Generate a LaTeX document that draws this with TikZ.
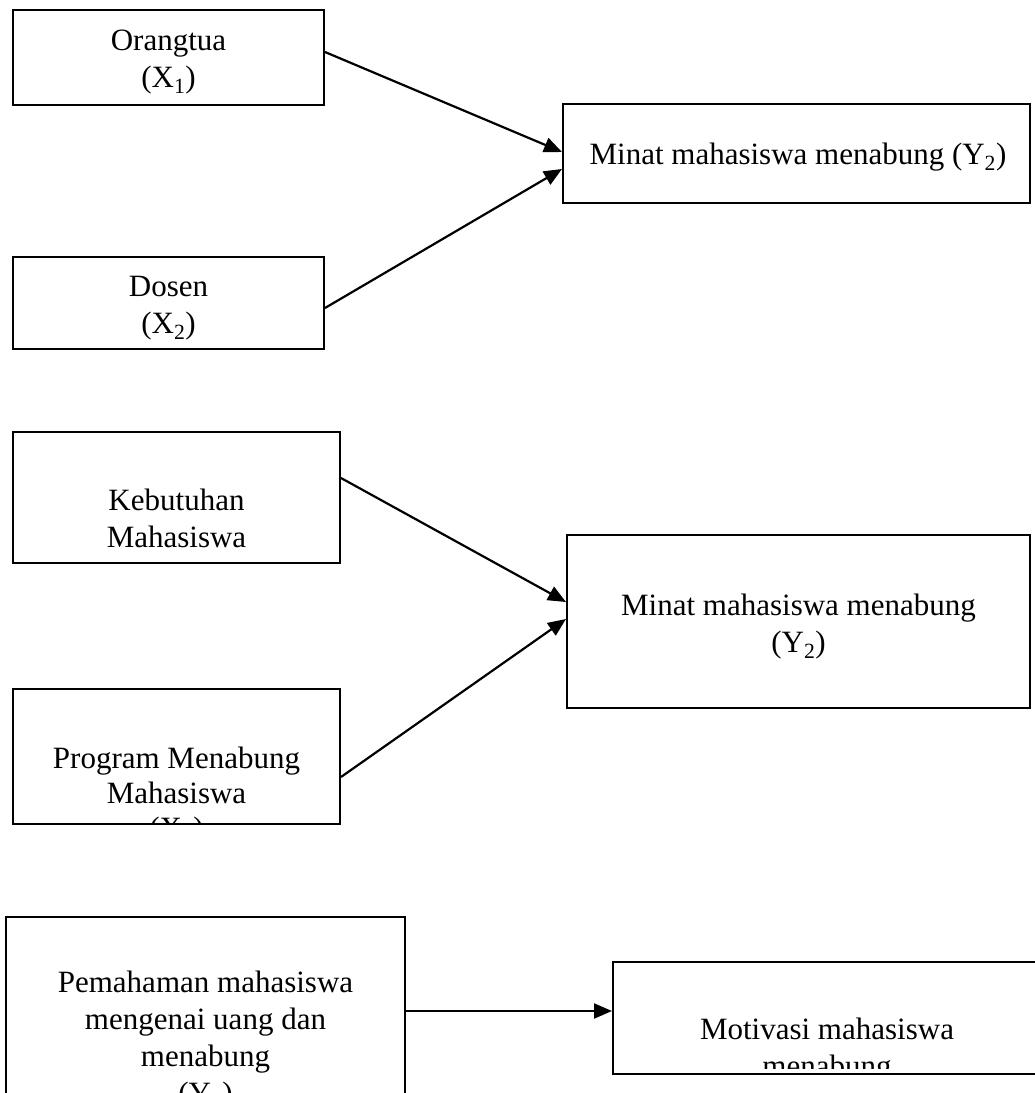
\documentclass[tikz,border=0pt]{standalone}
\usepackage{fontspec}
\setmainfont{Liberation Serif}
\usetikzlibrary{arrows.meta}
\begin{document}
\begin{tikzpicture}[x=1pt,y=-1pt,
  box/.style={draw=black,line width=2pt,rectangle,inner sep=0pt},
  txt/.style={align=center,inner sep=0pt,font=\fontsize{31}{37}\selectfont},
  arr/.style={line width=2.2pt,-{Triangle[length=18pt,width=15pt]}}]
\clip (0,0) rectangle (1035,1093);
\fill[white] (0,0) rectangle (1035,1093);
% group 1
\node[box,minimum width=311pt,minimum height=95pt] (o) at (168.5,57.5) {};
\node[txt] (ot) at (168.5,62) {Orangtua\\(X\textsubscript{1})};
\node[box,minimum width=311pt,minimum height=92pt] (d) at (168.5,303) {};
\node[txt] (dt) at (168.5,308) {Dosen\\(X\textsubscript{2})};
\node[box,minimum width=467pt,minimum height=99pt] (y1) at (796.5,153.5) {};
\node[txt] (y1t) at (798,157) {Minat mahasiswa menabung (Y\textsubscript{2})};
\draw[arr] (o.east |- 0,52) -- (y1.west |- 0,152);
\draw[arr] (d.east |- 0,308) -- (y1.west |- 0,169);
% group 2
\node[box,minimum width=327pt,minimum height=131pt] (k) at (176.5,497.5) {};
\node[txt] (kt) at (176.5,518) {Kebutuhan\\Mahasiswa};
\node[box,minimum width=327pt,minimum height=135pt] (p) at (176.5,756.5) {};
\begin{scope}
\clip (14,690) rectangle (339,823);
\node[txt,font=\fontsize{31}{35}\selectfont] (pt) at (176.5,796) {Program Menabung\\Mahasiswa\\(X\textsubscript{4})};
\end{scope}
\node[box,minimum width=463pt,minimum height=173pt] (y2) at (798.5,621.5) {};
\node[txt] (y2t) at (798.5,627) {Minat mahasiswa menabung\\(Y\textsubscript{2})};
\draw[arr] (k.east |- 0,478) -- (y2.west |- 0,602);
\draw[arr] (p.east |- 0,777) -- (y2.west |- 0,619);
% group 3
\node[box,minimum width=399pt,minimum height=185pt] (pm) at (205.5,1009.5) {};
\begin{scope}
\clip (7,918) rectangle (404,1093);
\node[txt] (pmt) at (205.5,1041) {Pemahaman mahasiswa\\mengenai uang dan\\menabung\\(Y\textsubscript{1})};
\end{scope}
\node[box,minimum width=430pt,minimum height=112pt] (mv) at (828,1018) {};
\begin{scope}
\clip (614,963) rectangle (1035,1068);
\node[txt] (mvt) at (827,1051) {Motivasi mahasiswa\\menabung};
\end{scope}
\draw[arr] (pm.east |- 0,1011) -- (mv.west |- 0,1011);
\end{tikzpicture}
\end{document}
